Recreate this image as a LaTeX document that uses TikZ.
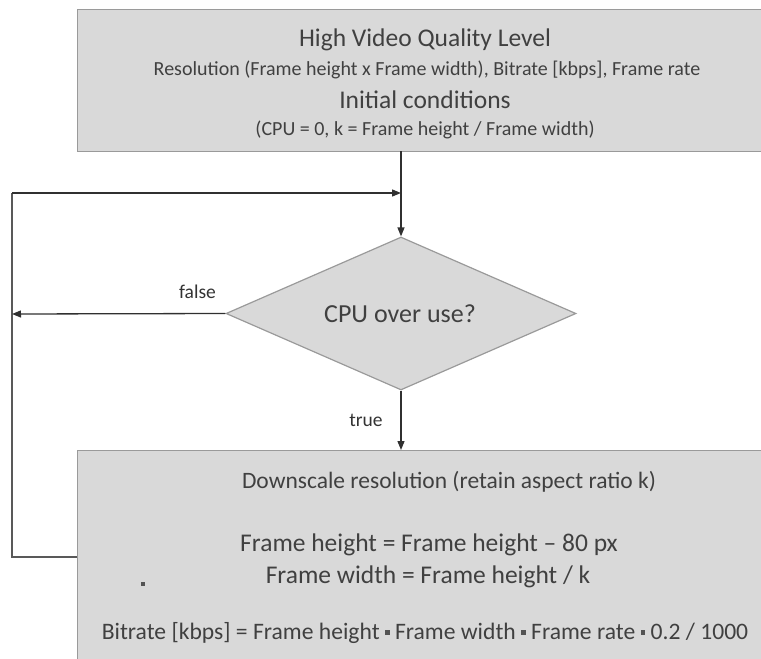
\documentclass[tikz,border=0pt]{standalone}
\usepackage{fontspec}
\setmainfont{Carlito}
\usetikzlibrary{shapes.geometric,arrows.meta}
\definecolor{boxfill}{HTML}{D9D9D9}
\definecolor{boxline}{HTML}{9A9A9A}
\definecolor{txt}{HTML}{404040}
\definecolor{wire}{HTML}{303030}
\newcommand{\sqdot}{ {\color{txt!90}\rule[0.2em]{0.2em}{0.2em}} }
\tikzset{
  box/.style={draw=boxline, line width=1.2pt, fill=boxfill, inner sep=0pt, anchor=north west},
  decision/.style={diamond, draw=boxline, line width=1.2pt, fill=boxfill, inner sep=0pt, aspect=2.29},
  txtnode/.style={text=txt, inner sep=0pt, anchor=center},
  big/.style={txtnode, font=\fontsize{25.5}{30}\selectfont},
  small/.style={txtnode, font=\fontsize{20}{24}\selectfont},
  lbl/.style={txtnode, text=black!80, font=\fontsize{19.5}{23}\selectfont},
  conn/.style={draw=wire, line width=1.3pt, -{Triangle[length=9pt,width=7pt]}},
  plainconn/.style={draw=wire!80, line width=1.3pt},
}
\begin{document}
\begin{tikzpicture}[x=1pt,y=-1pt]
\useasboundingbox[clip] (0,0) rectangle (761,659);
% boxes
\node[box, minimum width=760pt, minimum height=142pt] (top) at (77,9) {};
\node[box, minimum width=760pt, minimum height=260pt] (bot) at (77,450) {};
\node[decision, minimum width=350pt, minimum height=153pt] (dia) at (401,313.5) {};
% top texts
\node[big] (t1) at (425,40) {High Video Quality Level};
\node[small] (t2) at (427,70) {Resolution (Frame height x Frame width), Bitrate [kbps], Frame rate};
\node[big] (t3) at (425,100) {Initial conditions};
\node[small] (t4) at (425,130) {(CPU = 0, k = Frame height / Frame width)};
% diamond text
\node[txtnode, font=\fontsize{26}{30}\selectfont] (dt) at (400,314) {CPU over use?};
% bottom texts
\node[txtnode, font=\fontsize{23.5}{28}\selectfont] (b1) at (449,482) {Downscale resolution (retain aspect ratio k)};
\node[txtnode, font=\fontsize{25.5}{30}\selectfont] (b2) at (429,545) {Frame height = Frame height -- 80 px};
\node[txtnode, font=\fontsize{25.5}{30}\selectfont] (b3) at (428,577) {Frame width = Frame height / k};
\node[txtnode, font=\fontsize{23.6}{28}\selectfont] (b4) at (425,633) {Bitrate [kbps] = Frame height\sqdot Frame width\sqdot Frame rate\sqdot 0.2 / 1000};
\node[fill=txt!90, minimum size=4pt, inner sep=0pt] (dot) at (143,584) {};
% coordinates
\coordinate (junc) at (401,193);
\coordinate (lp) at (77,557);
\coordinate (lb) at (12,557);
\coordinate (lt) at (12,193);
\coordinate (fe) at (12,314);
\coordinate (topx) at (401,151);
\coordinate (botx) at (401,450);
\coordinate (falsepos) at (197.5,292);
\coordinate (truepos) at (366,420);
% connectors
\draw[conn] (topx) -- (dia.north);
\draw[plainconn] (lp) -- (lb) -- (lt);
\draw[conn] (lt) -- (junc);
\draw[conn] (dia.west) -- (fe);
\draw[conn] (dia.south) -- (botx);
\node[lbl] (fl) at (falsepos) {false};
\node[lbl] (tl) at (truepos) {true};
\end{tikzpicture}
\end{document}
